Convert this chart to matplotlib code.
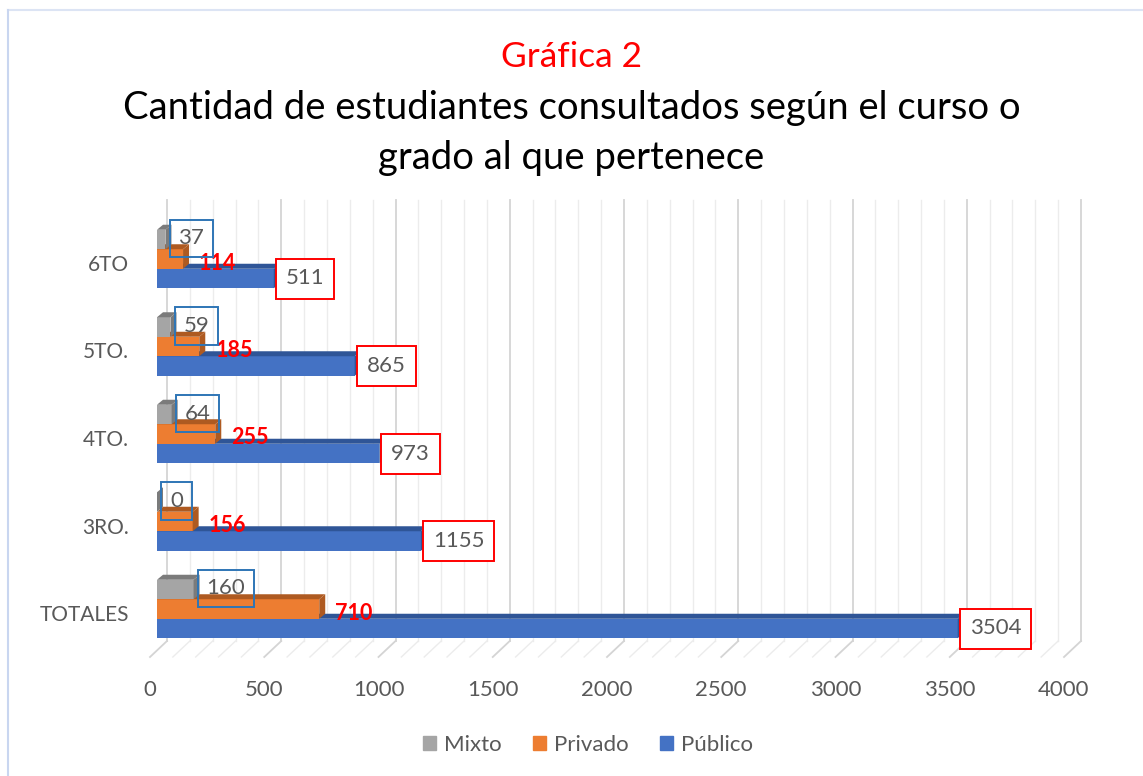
import matplotlib
matplotlib.use("Agg")
import matplotlib.pyplot as plt
from matplotlib.patches import Polygon
from matplotlib.lines import Line2D

plt.rcParams['font.family'] = ['Lato', 'DejaVu Sans']

categorias = ["TOTALES", "3RO.", "4TO.", "5TO.", "6TO"]
publico = [3504, 1155, 973, 865, 511]
privado = [710, 156, 255, 185, 114]
mixto = [160, 0, 64, 59, 37]
series = ["Mixto", "Privado", "Público"]
xticks = [0, 500, 1000, 1500, 2000, 2500, 3000, 3500, 4000]

col_face = {"Mixto": "#A5A5A5", "Privado": "#ED7D31", "Público": "#4472C4"}
col_dark = {"Mixto": "#7B7B7B", "Privado": "#AE5A21", "Público": "#2F5597"}
texto = "#595959"

W, H = 1143, 776
fig = plt.figure(figsize=(W / 100, H / 100), dpi=100)

# axes placed in pixel terms
left_px, right_px, top_px, bot_px = 157, 1071, 200, 660
ax = fig.add_axes([left_px / W, 1 - bot_px / H, (right_px - left_px) / W, (bot_px - top_px) / H])
xmax = 4000
px_x = (right_px - left_px) / xmax          # px per unit
group_px = 87.5
ax.set_xlim(0, xmax)
ax.set_ylim((609 - bot_px) / group_px, (609 - top_px) / group_px)
ax.axis("off")

def ux(px):
    return px / px_x

def uy(px):
    return px / group_px

bh = uy(19.5)
dx, dy = ux(6), uy(5)

# back wall + floor grid
floor_back = uy(609 - 641)
floor_front = uy(609 - 657)
top_y = ax.get_ylim()[1]
for v in range(0, xmax + 1, 100):
    major = v % 500 == 0
    c = "#D4D4D4" if major else "#ECECEC"
    lw = 1.3 if major else 1.0
    xb = v + ux(10)
    xf = v - ux(7)
    ax.add_line(Line2D([xb, xb], [floor_back, top_y], color=c, lw=lw, zorder=0, clip_on=False))
    ax.add_line(Line2D([xb, xf], [floor_back, floor_front], color=c, lw=lw, zorder=0, clip_on=False))

for v in xticks:
    ax.text(v - ux(7), uy(609 - 690), str(v), ha="center", va="center",
            fontsize=16, color=texto)

offsets = {"Público": -bh, "Privado": 0.0, "Mixto": bh}
datos = {"Público": publico, "Privado": privado, "Mixto": mixto}

def barra3d(y, val, name, z):
    y0, y1 = y - bh / 2, y + bh / 2
    ax.barh(y, val, height=bh, color=col_face[name], edgecolor="none", zorder=z)
    top = Polygon([(0, y1), (val, y1), (val + dx, y1 + dy), (dx, y1 + dy)],
                  closed=True, facecolor=col_dark[name], edgecolor="none", zorder=z)
    side = Polygon([(val, y0), (val + dx, y0 + dy), (val + dx, y1 + dy), (val, y1)],
                   closed=True, facecolor=col_dark[name], edgecolor="none", zorder=z)
    ax.add_patch(top)
    ax.add_patch(side)

for i in range(len(categorias)):
    for k, name in enumerate(["Público", "Privado", "Mixto"]):
        barra3d(i + offsets[name], datos[name][i], name, 2 + k)

# data labels
for i in range(len(categorias)):
    v = publico[i]
    ax.text(v + ux(12), i - bh, str(v), ha="left", va="center", fontsize=16, color=texto, zorder=10,
            bbox=dict(boxstyle="square,pad=0.45", facecolor="white", edgecolor="#FF0000", lw=1.4))
    v = privado[i]
    ax.text(v + ux(16), i - uy(4), str(v), ha="left", va="center", fontsize=15.5, color="#FF0000",
            fontweight="bold", zorder=10)
    v = mixto[i]
    ax.text(v + ux(13), i + bh + uy(1), str(v), ha="left", va="center", fontsize=16, color=texto,
            zorder=11, bbox=dict(boxstyle="square,pad=0.4", facecolor="none", edgecolor="#2E75B6", lw=1.4))

for i, c in enumerate(categorias):
    ax.text(-ux(28), i - uy(6), c, ha="right", va="center", fontsize=15, color=texto)

# titles
fig.text(0.5, 1 - 57 / H, "Gráfica 2", ha="center", va="center", fontsize=25.5, color="#FF0000")
fig.text(0.5, 1 - 108 / H, "Cantidad de estudiantes consultados según el curso o",
         ha="center", va="center", fontsize=27.5, color="black")
fig.text(0.5, 1 - 158 / H, "grado al que pertenece", ha="center", va="center",
         fontsize=27.5, color="black")

# legend
handles = [plt.Rectangle((0, 0), 1, 1, color=col_face[s]) for s in series]
fig.legend(handles, series, loc="center", bbox_to_anchor=(588 / W, 1 - 745 / H), ncol=3,
           frameon=False, fontsize=16, labelcolor=texto, handlelength=0.6, handleheight=0.6,
           columnspacing=1.4, handletextpad=0.35)

# chart border
fig.add_artist(Line2D([8 / W, 1], [1 - 10 / H, 1 - 10 / H], transform=fig.transFigure,
                      color="#DCE4F4", lw=1.5))
fig.add_artist(Line2D([8 / W, 8 / W], [0, 1 - 10 / H], transform=fig.transFigure,
                      color="#C9D6F0", lw=1.5))

fig.savefig("out.png", dpi=100)
